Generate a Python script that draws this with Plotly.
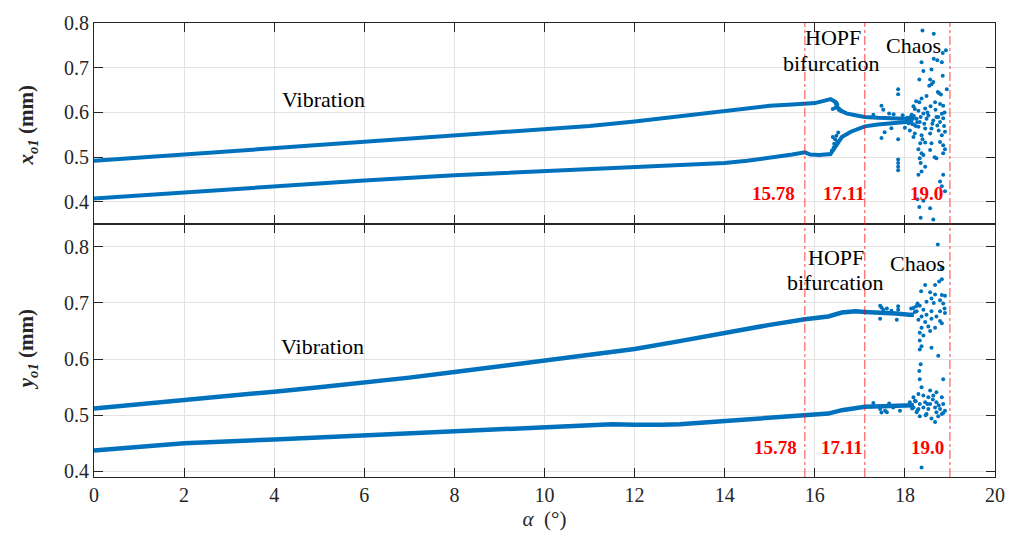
import plotly.graph_objects as go
from plotly.subplots import make_subplots

# ---------------- data ----------------
# top panel x_o1 : upper / lower branches (alpha, value)
top_up_a = [0, 2, 4, 6, 8, 10, 11, 12, 13, 14, 14.5, 15, 15.5, 15.78, 16.0, 16.2, 16.35, 16.45, 16.5, 16.6, 16.7, 16.9, 17.11, 17.4, 17.7, 18.0, 18.15]
top_up_v = [0.492, 0.506, 0.519, 0.534, 0.548, 0.562, 0.570, 0.580, 0.592, 0.604, 0.610, 0.615, 0.618, 0.619, 0.621, 0.626, 0.630, 0.624, 0.612, 0.603, 0.598, 0.594, 0.590, 0.588, 0.587, 0.586, 0.583]
top_lo_a = [0, 2, 4, 6, 8, 10, 12, 13, 14, 14.5, 15, 15.5, 15.78, 15.9, 16.1, 16.35, 16.4, 16.5, 16.6, 16.8, 17.11, 17.4, 17.7, 18.0, 18.15]
top_lo_v = [0.408, 0.422, 0.435, 0.448, 0.460, 0.469, 0.477, 0.481, 0.487, 0.492, 0.498, 0.506, 0.511, 0.506, 0.505, 0.507, 0.515, 0.530, 0.545, 0.557, 0.569, 0.573, 0.576, 0.578, 0.580]

top_sc_a = [16.40, 16.45, 16.50, 16.53, 16.58, 16.48, 16.38, 16.40, 16.43, 16.45, 16.48, 16.52, 16.42, 16.50,
            17.48, 17.52, 17.48, 17.55, 17.85, 17.85, 17.85, 17.85, 17.85, 17.85, 17.85, 17.65, 17.75, 17.95, 17.30, 17.70, 18.00,
            18.39, 18.64, 18.91, 18.84, 18.64, 18.72, 18.82, 18.37, 18.41, 18.59, 18.32, 18.56, 18.63, 18.84, 18.59, 18.73,
            18.76, 18.93, 18.48, 18.37, 18.32, 18.67, 18.78, 18.57, 18.45, 18.85, 18.19, 18.22, 18.30, 18.41, 18.52, 18.70,
            18.82, 18.15, 18.26, 18.33, 18.48, 18.63, 18.78, 18.85, 18.19, 18.30, 18.45, 18.59, 18.72, 18.11, 18.22, 18.37,
            18.56, 18.82, 18.89, 18.19, 18.34, 18.45, 18.59, 18.78, 18.85, 18.89, 18.30, 18.37, 18.41, 18.56, 18.33, 18.35,
            18.45, 18.70, 18.85, 18.37, 18.30, 18.85, 18.78, 18.89, 18.28, 18.41, 18.56, 18.32, 18.35, 18.63, 18.82,
            18.05, 18.08, 18.12, 18.16, 18.20, 18.24, 18.10, 18.14, 18.18, 18.27, 18.35, 18.43, 18.50, 18.61, 18.68,
            18.75, 18.80, 18.88, 18.25, 18.39, 18.54, 18.66, 18.74, 18.87]
top_sc_v = [0.608, 0.610, 0.618, 0.606, 0.603, 0.622, 0.515, 0.545, 0.530, 0.540, 0.548, 0.555, 0.522, 0.535,
            0.615, 0.606, 0.543, 0.556, 0.652, 0.641, 0.540, 0.495, 0.487, 0.479, 0.471, 0.598, 0.596, 0.594, 0.595, 0.565, 0.566,
            0.783, 0.776, 0.739, 0.733, 0.720, 0.717, 0.712, 0.712, 0.693, 0.696, 0.674, 0.674, 0.668, 0.682, 0.663, 0.646,
            0.643, 0.652, 0.637, 0.631, 0.623, 0.623, 0.619, 0.614, 0.609, 0.615, 0.614, 0.608, 0.604, 0.598, 0.593, 0.590,
            0.597, 0.595, 0.586, 0.579, 0.586, 0.582, 0.579, 0.587, 0.573, 0.568, 0.564, 0.564, 0.571, 0.560, 0.553, 0.549,
            0.553, 0.549, 0.557, 0.545, 0.531, 0.533, 0.531, 0.534, 0.527, 0.518, 0.518, 0.509, 0.505, 0.516, 0.498, 0.487,
            0.479, 0.498, 0.509, 0.468, 0.461, 0.461, 0.446, 0.424, 0.406, 0.403, 0.386, 0.389, 0.365, 0.361, 0.435,
            0.588, 0.576, 0.590, 0.574, 0.592, 0.570, 0.584, 0.580, 0.586, 0.578, 0.590, 0.575, 0.600, 0.575, 0.606,
            0.560, 0.640, 0.600, 0.625, 0.540, 0.660, 0.500, 0.590, 0.570]

# bottom panel y_o1
bot_up_a = [0, 1, 2, 3, 4, 5, 6, 7, 8, 9, 10, 11, 12, 13, 14, 15, 15.78, 16.0, 16.3, 16.6, 16.9, 17.11, 17.5, 17.8, 18.1, 18.2]
bot_up_v = [0.512, 0.519, 0.527, 0.534, 0.542, 0.550, 0.558, 0.567, 0.577, 0.587, 0.597, 0.607, 0.618, 0.632, 0.647, 0.661, 0.671, 0.673, 0.676, 0.683, 0.685, 0.684, 0.683, 0.681, 0.679, 0.679]
bot_lo_a = [0, 1, 2, 4, 6, 8, 9, 10, 11, 11.5, 12, 12.3, 12.6, 13, 14, 15, 15.78, 16.3, 16.6, 16.9, 17.11, 17.5, 17.8, 18.1, 18.2]
bot_lo_v = [0.437, 0.444, 0.450, 0.457, 0.464, 0.470, 0.474, 0.477, 0.482, 0.484, 0.483, 0.482, 0.483, 0.484, 0.490, 0.496, 0.500, 0.503, 0.509, 0.513, 0.515, 0.516, 0.517, 0.518, 0.518]

bot_sc_a = [17.45, 17.48, 17.52, 17.45, 17.85, 17.85, 17.82, 17.60, 17.70,
            17.45, 17.56, 17.60, 17.74, 17.85, 17.89, 17.48, 17.30, 17.65,
            18.73, 18.82, 18.82, 18.76, 18.67, 18.45, 18.36, 18.56, 18.67, 18.82, 18.89, 18.59, 18.48, 18.78,
            18.85, 18.28, 18.33, 18.19, 18.26, 18.41, 18.59, 18.78, 18.89, 18.37, 18.48, 18.70, 18.30, 18.45,
            18.59, 18.78, 18.37, 18.52, 18.67, 18.82, 18.33, 18.56, 18.41, 18.33, 18.37, 18.59, 18.74, 18.33,
            18.35, 18.32, 18.33, 18.85, 18.37, 18.56, 18.70, 18.19, 18.30, 18.41, 18.52, 18.63, 18.82, 18.11,
            18.22, 18.33, 18.45, 18.56, 18.70, 18.85, 18.19, 18.30, 18.41, 18.52, 18.67, 18.78, 18.89, 18.26,
            18.48, 18.70, 18.82, 18.33, 18.59, 18.74, 18.85, 18.67, 18.37,
            18.14, 18.22, 18.25, 18.64, 18.88, 18.50, 18.16, 18.24, 18.28, 18.62, 18.75, 18.46]
bot_sc_v = [0.695, 0.692, 0.688, 0.672, 0.694, 0.688, 0.670, 0.690, 0.686,
            0.511, 0.508, 0.5055, 0.514, 0.517, 0.508, 0.505, 0.522, 0.521,
            0.804, 0.761, 0.742, 0.738, 0.732, 0.732, 0.721, 0.719, 0.715, 0.714, 0.713, 0.708, 0.702, 0.705,
            0.699, 0.699, 0.695, 0.691, 0.685, 0.688, 0.685, 0.685, 0.682, 0.676, 0.679, 0.676, 0.670, 0.666,
            0.672, 0.668, 0.656, 0.658, 0.656, 0.664, 0.647, 0.650, 0.642, 0.633, 0.623, 0.620, 0.606, 0.617,
            0.591, 0.579, 0.564, 0.564, 0.550, 0.544, 0.541, 0.532, 0.538, 0.535, 0.532, 0.535, 0.532, 0.523,
            0.526, 0.520, 0.523, 0.520, 0.523, 0.520, 0.514, 0.511, 0.514, 0.511, 0.514, 0.511, 0.508, 0.5055,
            0.502, 0.5055, 0.502, 0.498, 0.494, 0.498, 0.504, 0.488, 0.407,
            0.690, 0.684, 0.694, 0.700, 0.690, 0.520, 0.512, 0.525, 0.509, 0.528, 0.518, 0.500]

crit_a = [15.78, 17.11, 19.0]
crit_labels = ["15.78", "17.11", "19.0"]
x_ticks = [0, 2, 4, 6, 8, 10, 12, 14, 16, 18, 20]
y_ticks = [0.4, 0.5, 0.6, 0.7, 0.8]

# ---------------- figure ----------------
BLUE = "#0072BD"
FONT = "Liberation Serif, Times New Roman, serif"
AX = "#262626"

fig = make_subplots(rows=2, cols=1, shared_xaxes=True, vertical_spacing=0)

for a, v in [(top_up_a, top_up_v), (top_lo_a, top_lo_v)]:
    fig.add_trace(go.Scatter(x=a, y=v, mode="lines", line=dict(color=BLUE, width=4), showlegend=False), row=1, col=1)
fig.add_trace(go.Scatter(x=top_sc_a, y=top_sc_v, mode="markers", marker=dict(color=BLUE, size=4), showlegend=False), row=1, col=1)

for a, v in [(bot_up_a, bot_up_v), (bot_lo_a, bot_lo_v)]:
    fig.add_trace(go.Scatter(x=a, y=v, mode="lines", line=dict(color=BLUE, width=4.5), showlegend=False), row=2, col=1)
fig.add_trace(go.Scatter(x=bot_sc_a, y=bot_sc_v, mode="markers", marker=dict(color=BLUE, size=4), showlegend=False), row=2, col=1)

tick_font = dict(family=FONT, size=20, color=AX)
for ax_name in ["xaxis", "xaxis2", "yaxis", "yaxis2"]:
    fig.layout[ax_name].update(showline=True, mirror="ticks", linecolor=AX, linewidth=1.2, ticks="inside", ticklen=9,
                               tickcolor=AX, tickwidth=1, showgrid=True, gridcolor="#e3e3e3", gridwidth=1,
                               zeroline=False, tickfont=tick_font)

fig.layout.xaxis.update(range=[0, 20], tickvals=x_ticks, showticklabels=False)
fig.layout.xaxis2.update(range=[0, 20], tickvals=x_ticks,
                         title=dict(text="<i>α</i>  (°)", font=dict(family=FONT, size=21, color=AX), standoff=6))
fig.layout.yaxis.update(range=[0.35, 0.8], domain=[0.5565, 1.0], tickvals=y_ticks, tickformat=".1f")
fig.layout.yaxis2.update(range=[0.39, 0.84], domain=[0.0, 0.5565], tickvals=y_ticks, tickformat=".1f")

# vertical critical lines
for a in crit_a:
    fig.add_shape(type="line", xref="x2", yref="paper", x0=a, x1=a, y0=0, y1=1,
                  line=dict(color="rgba(255,0,0,0.75)", width=1, dash="dashdot"))

ann = []
txt = dict(family=FONT, size=22, color="black")
red = dict(family=FONT, size=19, color="red")
# top panel text
ann += [dict(x=5.1, y=0.629, xref="x", yref="y", text="Vibration", font=txt),
        dict(x=16.40, y=0.767, xref="x", yref="y", text="HOPF", font=txt),
        dict(x=16.38, y=0.709, xref="x", yref="y", text="bifurcation", font=txt),
        dict(x=18.20, y=0.750, xref="x", yref="y", text="Chaos", font=txt)]
for xa, lab in zip([15.09, 16.65, 18.49], crit_labels):
    ann.append(dict(x=xa, y=0.418, xref="x", yref="y", text="<b>%s</b>" % lab, font=red))
# bottom panel text
ann += [dict(x=5.08, y=0.622, xref="x2", yref="y2", text="Vibration", font=txt),
        dict(x=16.47, y=0.781, xref="x2", yref="y2", text="HOPF", font=txt),
        dict(x=16.45, y=0.736, xref="x2", yref="y2", text="bifurcation", font=txt),
        dict(x=18.27, y=0.771, xref="x2", yref="y2", text="Chaos", font=txt)]
for xa, lab in zip([15.12, 16.60, 18.51], crit_labels):
    ann.append(dict(x=xa, y=0.443, xref="x2", yref="y2", text="<b>%s</b>" % lab, font=red))
# y-axis titles
ann += [dict(x=-0.074, y=0.775, xref="paper", yref="paper", textangle=-90,
             text="<b><i>x</i><sub><i>o1</i></sub> (mm)</b>", font=dict(family=FONT, size=21, color=AX)),
        dict(x=-0.074, y=0.28, xref="paper", yref="paper", textangle=-90,
             text="<b><i>y</i><sub><i>o1</i></sub> (mm)</b>", font=dict(family=FONT, size=21, color=AX))]
for a in ann:
    a.setdefault("showarrow", False)
    a.setdefault("xanchor", "center")
    a.setdefault("yanchor", "middle")
fig.update_layout(annotations=ann)

fig.update_layout(width=1019, height=539, margin=dict(l=94, r=24, t=18, b=62),
                  plot_bgcolor="white", paper_bgcolor="white", font=dict(family=FONT, size=20, color=AX))

fig.write_html("out.html")
